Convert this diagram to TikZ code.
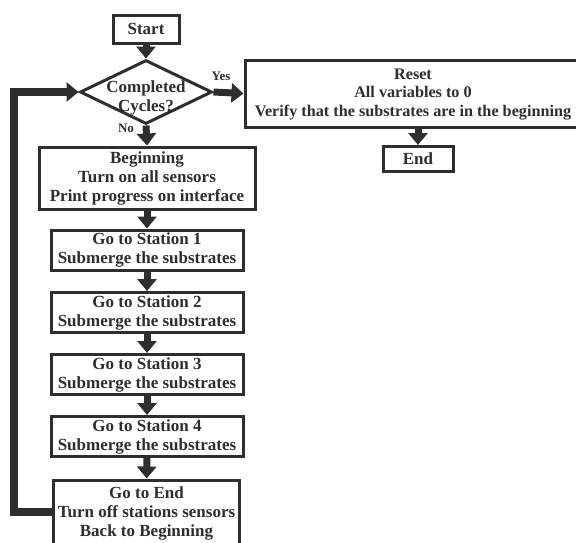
\documentclass[tikz,border=0pt]{standalone}
\usepackage{fontspec}
\setmainfont{Liberation Serif}
\usetikzlibrary{arrows.meta,shapes.geometric}
\definecolor{ink}{HTML}{2E2E2E}
\tikzset{
  txt/.style={text=ink, font=\bfseries\fontsize{17}{19}\selectfont, align=center},
  box/.style={draw=ink, line width=3pt, fill=white, txt, inner sep=0pt},
  flow/.style={draw=ink, line width=7pt, -{Triangle[width=19pt,length=12pt]}, color=ink},
  lbl/.style={text=ink, font=\bfseries\fontsize{13}{14}\selectfont, inner sep=0pt}
}
\begin{document}
\begin{tikzpicture}[x=1pt,y=-1pt]
\useasboundingbox (0,0) rectangle (576,542);
\node[box, minimum width=66pt, minimum height=28pt] (start) at (146,29) {Start};
\node[box, diamond, aspect=2.08, minimum width=132pt, minimum height=64pt, inner sep=0pt] (dec) at (146,92) {};
\node[txt] (dectext) at (146,98) {Completed\\Cycles?};
\node[box, minimum width=346pt, minimum height=67pt] (reset) at (418,93.5) {};
\node[txt, font=\bfseries\fontsize{16.2}{18.5}\selectfont] (resettext) at (413,94) {Reset\\All variables to 0\\Verify that the substrates are in the beginning};
\node[box, minimum width=70pt, minimum height=25pt] (end) at (418,159) {End};
\node[box, minimum width=216pt, minimum height=62pt] (begin) at (147,178) {Beginning\\Turn on all sensors\\Print progress on interface};
\node[box, minimum width=192pt, minimum height=40pt] (s1) at (147,250) {Go to Station 1\\Submerge the substrates};
\node[box, minimum width=192pt, minimum height=40pt] (s2) at (147,312.5) {Go to Station 2\\Submerge the substrates};
\node[box, minimum width=192pt, minimum height=40pt] (s3) at (147,374.5) {Go to Station 3\\Submerge the substrates};
\node[box, minimum width=192pt, minimum height=40pt] (s4) at (147,436.5) {Go to Station 4\\Submerge the substrates};
\node[box, minimum width=186pt, minimum height=66pt] (goend) at (146.5,513) {Go to End\\Turn off stations sensors\\Back to Beginning};
\node[lbl] (yes) at (221,76) {Yes};
\node[lbl] (no) at (126,128) {No};
\draw[flow] (start) -- (dec.north);
\draw[flow] (dec.east) -- (reset.west);
\draw[flow] (dec.south) -- (begin.north);
\draw[flow] (reset.south -| end.north) -- (end.north);
\draw[flow] (begin) -- (s1);
\draw[flow] (s1) -- (s2);
\draw[flow] (s2) -- (s3);
\draw[flow] (s3) -- (s4);
\draw[flow] (s4) -- (goend);
\draw[flow, line width=8pt] (goend.west |- 0,512) -- (14,512) -- (14,92) -- (dec.west);
\end{tikzpicture}
\end{document}
